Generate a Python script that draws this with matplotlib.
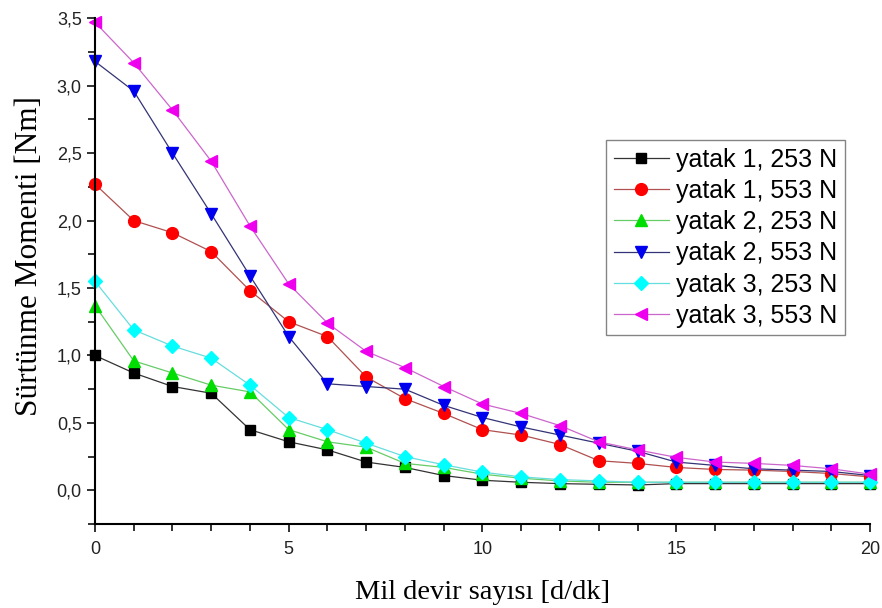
import matplotlib
matplotlib.use("Agg")
import matplotlib.pyplot as plt
from matplotlib.ticker import MultipleLocator, FuncFormatter

x = list(range(21))
y1_253 = [1.00, 0.87, 0.77, 0.72, 0.45, 0.36, 0.30, 0.21, 0.17, 0.11, 0.075, 0.06, 0.05, 0.045, 0.04, 0.05, 0.05, 0.05, 0.05, 0.05, 0.05]
y1_553 = [2.27, 2.00, 1.91, 1.77, 1.48, 1.25, 1.14, 0.84, 0.68, 0.57, 0.45, 0.41, 0.34, 0.22, 0.20, 0.17, 0.155, 0.15, 0.14, 0.125, 0.10]
y2_253 = [1.37, 0.96, 0.87, 0.78, 0.73, 0.45, 0.36, 0.32, 0.20, 0.17, 0.12, 0.09, 0.07, 0.06, 0.06, 0.06, 0.06, 0.06, 0.06, 0.06, 0.06]
y2_553 = [3.18, 2.96, 2.50, 2.05, 1.59, 1.14, 0.79, 0.77, 0.75, 0.63, 0.54, 0.47, 0.41, 0.35, 0.29, 0.21, 0.185, 0.16, 0.15, 0.14, 0.11]
y3_253 = [1.55, 1.19, 1.07, 0.98, 0.78, 0.54, 0.45, 0.35, 0.25, 0.19, 0.135, 0.10, 0.08, 0.07, 0.06, 0.06, 0.06, 0.06, 0.06, 0.06, 0.06]
y3_553 = [3.47, 3.17, 2.82, 2.44, 1.96, 1.53, 1.24, 1.03, 0.91, 0.77, 0.64, 0.57, 0.48, 0.36, 0.30, 0.245, 0.21, 0.20, 0.185, 0.16, 0.12]

labels = ["yatak 1, 253 N", "yatak 1, 553 N", "yatak 2, 253 N",
          "yatak 2, 553 N", "yatak 3, 253 N", "yatak 3, 553 N"]
series = [y1_253, y1_553, y2_253, y2_553, y3_253, y3_553]
markers = ["s", "o", "^", "v", "D", "<"]
mcolors = ["#000000", "#ff0000", "#00dd00", "#0000ee", "#00ffff", "#ee00ee"]
lcolors = ["#333333", "#b05050", "#66cc66", "#333377", "#66dddd", "#cc66cc"]
msizes = [7.5, 8.5, 8.5, 8.5, 7, 8.5]

fig = plt.figure(figsize=(8.82, 6.08), dpi=100)
ax = fig.add_axes([0.1077, 0.138, 0.8787, 0.832])

for ys, lab, m, mc, lc, ms in zip(series, labels, markers, mcolors, lcolors, msizes):
    ax.plot(x, ys, color=lc, lw=0.9, marker=m, markersize=ms,
            markerfacecolor=mc, markeredgecolor=mc, label=lab, clip_on=False)

ax.set_xlim(0, 20)
ax.set_ylim(-0.25, 3.5)
ax.xaxis.set_major_locator(MultipleLocator(5))
ax.xaxis.set_minor_locator(MultipleLocator(1))
ax.yaxis.set_major_locator(MultipleLocator(0.5))
ax.yaxis.set_minor_locator(MultipleLocator(0.25))
ax.yaxis.set_major_formatter(FuncFormatter(lambda v, p: f"{v:.1f}".replace(".", ",")))
ax.xaxis.set_major_formatter(FuncFormatter(lambda v, p: f"{v:.0f}"))

for s in ["top", "right"]:
    ax.spines[s].set_visible(False)
for s in ["left", "bottom"]:
    ax.spines[s].set_linewidth(1.5)

ax.tick_params(which="both", direction="out", width=1.3, length=6,
               labelsize=13, labelfontfamily="Liberation Sans", colors="#222222")
ax.tick_params(axis="x", pad=6)
ax.tick_params(which="minor", length=5)

ax.set_xlabel("Mil devir sayısı [d/dk]", fontsize=20.5, family="Liberation Serif", labelpad=16)
ax.set_ylabel("Sürtünme Momenti [Nm]", fontsize=22.5, family="Liberation Serif")
ax.yaxis.set_label_coords(-0.066, 0.53)

leg = ax.legend(loc="upper right", bbox_to_anchor=(0.968, 0.759), prop={"family": "Liberation Sans", "size": 18},
                frameon=True, fancybox=False, edgecolor="#666666", handlelength=2.2,
                handletextpad=0.3, borderpad=0.3, labelspacing=0.29, borderaxespad=0)
leg.get_frame().set_linewidth(1.0)

fig.savefig("out.png", dpi=100)
